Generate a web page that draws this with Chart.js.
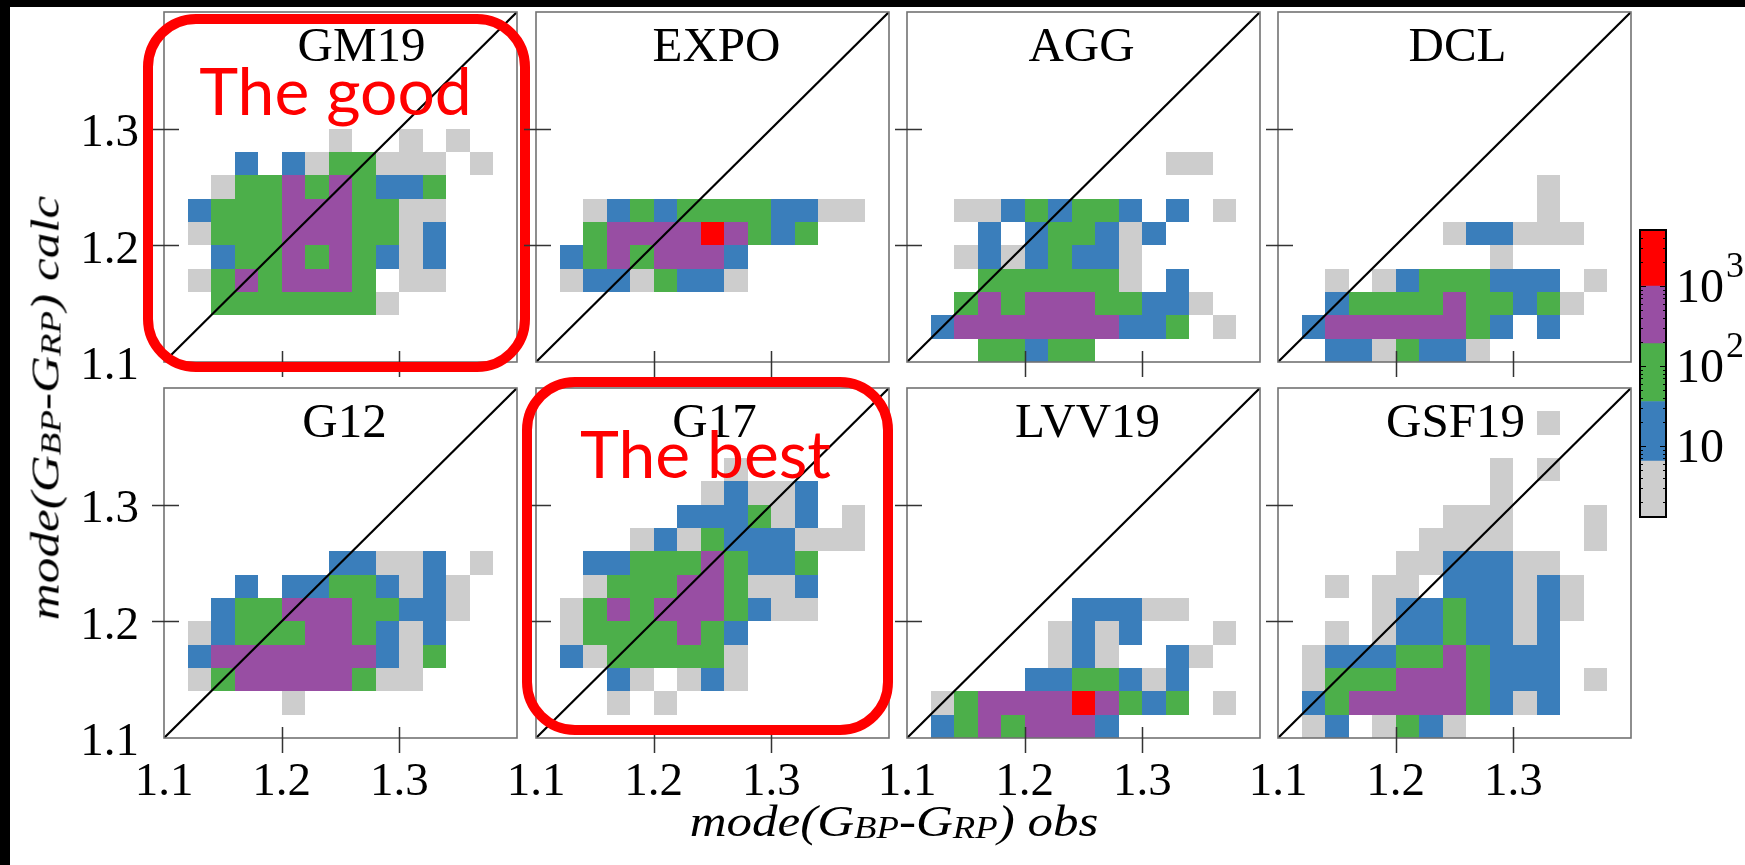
<!DOCTYPE html>
<html>
<head>
<meta charset="utf-8">
<title>mode(GBP-GRP) calc vs obs</title>
<script src="https://cdn.jsdelivr.net/npm/chart.js@4.4.1/dist/chart.umd.min.js"></script>
<style>
    html, body { margin: 0; padding: 0; background: #fff; }
    body { position: relative; width: 1745px; height: 865px; overflow: hidden; }
    .edge-top { position: absolute; left: 0; top: 0; width: 1745px; height: 7px; background: #000; }
    .edge-left { position: absolute; left: 0; top: 0; width: 10px; height: 865px; background: #000; }
    .box { position: absolute; }
    .box canvas { display: block; }
    .axis-title {
        position: absolute;
        font-family: 'Liberation Serif', 'Times New Roman', serif;
        font-style: italic;
        color: #000;
        white-space: nowrap;
        transform-origin: 50% 50%;
    }
    .axis-title .sc { font-size: 0.72em; position: relative; top: 0.06em; }
    #xTitle { left: 894px; top: 800px; font-size: 44px; line-height: 44px; transform: translateX(-50%) scaleX(1.16); }
    #yTitle { left: 47px; top: 408px; font-size: 41px; line-height: 41px; transform: translate(-50%, -50%) rotate(-90deg) scaleX(1.25); }
</style>
</head>
<body>
<div class="edge-top"></div>
<div class="edge-left"></div>
<div id="panels"></div>
<div class="axis-title" id="yTitle">mode(G<span class="sc">BP</span>-G<span class="sc">RP</span>) calc</div>
<div class="axis-title" id="xTitle">mode(G<span class="sc">BP</span>-G<span class="sc">RP</span>) obs</div>

<script>
// Bins run from 1.10 to 1.40 in steps of 0.02 on both axes.
var binStart = 1.1;
var binStep = 0.02;
var axisMin = 1.1;
var axisMax = 1.4;
var axisStep = 0.1;

var panelNames = ['GM19', 'EXPO', 'AGG', 'DCL', 'G12', 'G17', 'LVV19', 'GSF19'];

// Count class of every bin, one string per row, top row = calc 1.38-1.40.
// '.' empty, 1 grey, 2 blue, 3 green, 4 purple, 5 red (see levelEdges).
var gm19Bins = [
    '...............',
    '...............',
    '...............',
    '...............',
    '...............',
    '.......1..1.1..',
    '...2.2133111.1.',
    '..1334343223...',
    '.23334443311...',
    '.13334443312...',
    '..2334343212...',
    '.13434443.11...',
    '..33333331.....',
    '...............',
    '...............'
];
var expoBins = [
    '...............',
    '...............',
    '...............',
    '...............',
    '...............',
    '...............',
    '...............',
    '...............',
    '..123233332211.',
    '..3444454323...',
    '.23434442......',
    '.12213221......',
    '...............',
    '...............',
    '...............'
];
var aggBins = [
    '...............',
    '...............',
    '...............',
    '...............',
    '...............',
    '...............',
    '...........11..',
    '...............',
    '..11232332.2.1.',
    '...2.233212....',
    '..12123221.....',
    '...3333331.2...',
    '..34344433221..',
    '.24444444223.1.',
    '...33233.......'
];
var dclBins = [
    '...............',
    '...............',
    '...............',
    '...............',
    '...............',
    '...............',
    '...............',
    '...........1...',
    '...........1...',
    '.......122111..',
    '.........1.....',
    '..1.12333222.1.',
    '..23333433231..',
    '.244444432.2...',
    '..2213221......'
];
var g12Bins = [
    '...............',
    '...............',
    '...............',
    '...............',
    '...............',
    '...............',
    '...............',
    '.......22112.1.',
    '...2.22332121..',
    '..23344433221..',
    '.12333443212...',
    '.24444444213...',
    '.1344444311....',
    '.....1.........',
    '...............'
];
var g17Bins = [
    '...............',
    '...............',
    '...............',
    '........1......',
    '.......12112...',
    '......222312.1.',
    '....1213222111.',
    '..2233343223...',
    '..1333443112...',
    '.13434443211...',
    '.13333432......',
    '.21333331......',
    '...21.121......',
    '...1.1.........',
    '...............'
];
var lvv19Bins = [
    '...............',
    '...............',
    '...............',
    '...............',
    '...............',
    '...............',
    '...............',
    '...............',
    '...............',
    '.......22211...',
    '......1212...1.',
    '......121..21..',
    '.....2233212...',
    '.13444454323.1.',
    '.23434442......'
];
var gsf19Bins = [
    '...............',
    '...........1...',
    '...............',
    '.........1.1...',
    '.........1.....',
    '.......111...1.',
    '......1111...1.',
    '.....1122211...',
    '..1.11.222121..',
    '....122322121..',
    '..1.12232212...',
    '.12223343222...',
    '.13334443222.1.',
    '.23444443212...',
    '.12.1321.......'
];
var panelBins = [gm19Bins, expoBins, aggBins, dclBins, g12Bins, g17Bins, lvv19Bins, gsf19Bins];

// Colour classes and their count limits (log colour bar).
var levelColors = ['#cdcdcd', '#3a7ebb', '#4caf4a', '#984ea3', '#ff0000'];
var levelEdges = [1.3, 6.5, 36, 190, 1000, 5000];
var colorbarTicks = [10, 100, 1000];
var colorbarExponents = ['', '2', '3'];

var calloutTexts = ['The good', 'The best'];

// Page layout (pixels).
var PANEL_LEFT = [164, 536, 907, 1278];
var PANEL_TOP = [12, 388];
var PANEL_W = 353;
var PANEL_H = 350;
var AXIS_W = 100;
var AXIS_H = 80;
var PAD_TOP = 12;
var PAD_RIGHT = 20;
var titleShift = [21, 4, -2, 3, 4, 2, 4, 1];
var callouts = {
    0: { text: calloutTexts[0], inset: [-16, 7, 8, 5], dx: -5, baseline: 103 },
    5: { text: calloutTexts[1], inset: [-9, -6, -1, -8], dx: -7, baseline: 90 }
};

var SERIF = "'Liberation Serif', 'Times New Roman', serif";

function buildCells(rows) {
    var cells = [];
    var n = rows.length;
    rows.forEach(function (row, r) {
        var j = n - 1 - r;
        for (var i = 0; i < row.length; i++) {
            var c = row.charAt(i);
            if (c === '.') {
                continue;
            }
            cells.push({
                x: binStart + (i + 0.5) * binStep,
                y: binStart + (j + 0.5) * binStep,
                level: parseInt(c, 10)
            });
        }
    });
    return cells;
}

function roundedRect(ctx, x0, y0, x1, y1, r) {
    ctx.beginPath();
    ctx.moveTo(x0 + r, y0);
    ctx.lineTo(x1 - r, y0);
    ctx.arcTo(x1, y0, x1, y0 + r, r);
    ctx.lineTo(x1, y1 - r);
    ctx.arcTo(x1, y1, x1 - r, y1, r);
    ctx.lineTo(x0 + r, y1);
    ctx.arcTo(x0, y1, x0, y1 - r, r);
    ctx.lineTo(x0, y0 + r);
    ctx.arcTo(x0, y0, x0 + r, y0, r);
    ctx.closePath();
}

// Keep the plot area fixed: no extra room for half-labels at the axis ends.
function fixAxis(size) {
    return function (scale) {
        if (scale.isHorizontal()) {
            scale.height = size;
        } else {
            scale.width = size;
        }
        scale.paddingLeft = 0;
        scale.paddingRight = 0;
        scale.paddingTop = 0;
        scale.paddingBottom = 0;
    };
}

// Filled bins go under the diagonal, frame/ticks/title on top.
function panelPlugin(index) {
    return {
        id: 'panelDecor' + index,
        beforeDatasetsDraw: function (chart) {
            var ctx = chart.ctx;
            var xs = chart.scales.x;
            var ys = chart.scales.y;
            ctx.save();
            chart.data.datasets[0].data.forEach(function (c) {
                var x0 = Math.round(xs.getPixelForValue(c.x - binStep / 2));
                var x1 = Math.round(xs.getPixelForValue(c.x + binStep / 2));
                var y0 = Math.round(ys.getPixelForValue(c.y + binStep / 2));
                var y1 = Math.round(ys.getPixelForValue(c.y - binStep / 2));
                ctx.fillStyle = levelColors[c.level - 1];
                ctx.fillRect(x0, y0, x1 - x0, y1 - y0);
            });
            ctx.restore();
        },
        afterDatasetsDraw: function (chart) {
            var ctx = chart.ctx;
            var area = chart.chartArea;
            var xs = chart.scales.x;
            var ys = chart.scales.y;
            ctx.save();

            ctx.strokeStyle = '#727272';
            ctx.lineWidth = 1.6;
            ctx.strokeRect(area.left, area.top, area.right - area.left, area.bottom - area.top);

            // tick marks cross the frame
            ctx.strokeStyle = '#333';
            ctx.lineWidth = 1.5;
            ctx.beginPath();
            xs.ticks.forEach(function (t) {
                if (t.value <= axisMin + 1e-6 || t.value >= axisMax - 1e-6) {
                    return;
                }
                var px = Math.round(xs.getPixelForValue(t.value)) + 0.5;
                ctx.moveTo(px, area.bottom - 11);
                ctx.lineTo(px, area.bottom + 15);
            });
            ys.ticks.forEach(function (t) {
                if (t.value <= axisMin + 1e-6 || t.value >= axisMax - 1e-6) {
                    return;
                }
                var py = Math.round(ys.getPixelForValue(t.value)) + 0.5;
                ctx.moveTo(area.left - 12, py);
                ctx.lineTo(area.left + 15, py);
            });
            ctx.stroke();

            ctx.fillStyle = '#000';
            ctx.font = '49px ' + SERIF;
            ctx.textAlign = 'center';
            ctx.textBaseline = 'alphabetic';
            ctx.fillText(panelNames[index], (area.left + area.right) / 2 + titleShift[index], area.top + 49);
            ctx.restore();
        },
        afterDraw: function (chart) {
            var note = callouts[index];
            if (!note) {
                return;
            }
            var ctx = chart.ctx;
            var area = chart.chartArea;
            ctx.save();
            ctx.strokeStyle = '#ff0000';
            ctx.lineWidth = 10;
            roundedRect(ctx, area.left + note.inset[0], area.top + note.inset[1],
                area.right + note.inset[2], area.bottom + note.inset[3], 48);
            ctx.stroke();
            ctx.fillStyle = '#ff0000';
            ctx.font = '66px Lato, "Open Sans", sans-serif';
            ctx.textAlign = 'center';
            ctx.textBaseline = 'alphabetic';
            ctx.fillText(note.text, (area.left + area.right) / 2 + note.dx, area.top + note.baseline);
            ctx.restore();
        }
    };
}

function tickLabel(value) {
    var v = Number(value);
    if (v > axisMax - 0.05) {
        return '';
    }
    return v.toFixed(1);
}

function createPanel(index) {
    var col = index % 4;
    var row = Math.floor(index / 4);
    var holder = document.createElement('div');
    holder.className = 'box';
    var w = AXIS_W + PANEL_W + PAD_RIGHT;
    var h = PAD_TOP + PANEL_H + AXIS_H;
    holder.style.left = (PANEL_LEFT[col] - AXIS_W) + 'px';
    holder.style.top = (PANEL_TOP[row] - PAD_TOP) + 'px';
    holder.style.width = w + 'px';
    holder.style.height = h + 'px';
    var canvas = document.createElement('canvas');
    canvas.width = w;
    canvas.height = h;
    holder.appendChild(canvas);
    document.getElementById('panels').appendChild(holder);

    new Chart(canvas.getContext('2d'), {
        type: 'scatter',
        data: {
            datasets: [
                {
                    label: panelNames[index],
                    data: buildCells(panelBins[index]),
                    pointRadius: 0,
                    pointHoverRadius: 0
                },
                {
                    label: 'one-to-one',
                    data: [{ x: axisMin, y: axisMin }, { x: axisMax, y: axisMax }],
                    showLine: true,
                    borderColor: '#000',
                    borderWidth: 2.2,
                    pointRadius: 0,
                    fill: false
                }
            ]
        },
        options: {
            responsive: false,
            maintainAspectRatio: false,
            animation: false,
            events: [],
            layout: { padding: { left: 0, top: PAD_TOP, right: PAD_RIGHT, bottom: 0 } },
            plugins: {
                legend: { display: false },
                tooltip: { enabled: false }
            },
            scales: {
                x: {
                    type: 'linear',
                    position: 'bottom',
                    min: axisMin,
                    max: axisMax,
                    grid: { display: false, drawTicks: false },
                    border: { display: false },
                    afterFit: fixAxis(AXIS_H),
                    ticks: {
                        display: row === 1,
                        stepSize: axisStep,
                        autoSkip: false,
                        maxRotation: 0,
                        padding: 16,
                        color: '#000',
                        font: { family: SERIF, size: 47 },
                        callback: tickLabel
                    }
                },
                y: {
                    type: 'linear',
                    position: 'left',
                    min: axisMin,
                    max: axisMax,
                    grid: { display: false, drawTicks: false },
                    border: { display: false },
                    afterFit: fixAxis(AXIS_W),
                    ticks: {
                        display: col === 0,
                        stepSize: axisStep,
                        autoSkip: false,
                        padding: 25,
                        labelOffset: 5,
                        color: '#000',
                        font: { family: SERIF, size: 47 },
                        callback: tickLabel
                    }
                }
            }
        },
        plugins: [panelPlugin(index)]
    });
}

// Colour bar: one floating bar per count class on a log axis.
function createColorbar() {
    var holder = document.createElement('div');
    holder.className = 'box';
    var w = 115;
    var h = 312;
    holder.style.left = '1630px';
    holder.style.top = '218px';
    holder.style.width = w + 'px';
    holder.style.height = h + 'px';
    var canvas = document.createElement('canvas');
    canvas.width = w;
    canvas.height = h;
    holder.appendChild(canvas);
    document.getElementById('panels').appendChild(holder);

    var frame = {
        id: 'colorbarFrame',
        afterDatasetsDraw: function (chart) {
            var ctx = chart.ctx;
            var area = chart.chartArea;
            var ys = chart.scales.y;
            ctx.save();
            ctx.strokeStyle = '#000';
            ctx.lineWidth = 1.2;
            ctx.beginPath();
            [1, 10, 100, 1000].forEach(function (decade) {
                for (var m = 1; m <= 9; m++) {
                    var v = m * decade;
                    if (v <= levelEdges[0] || v >= levelEdges[levelEdges.length - 1]) {
                        continue;
                    }
                    var len = m === 1 ? 6 : 3;
                    var py = Math.round(ys.getPixelForValue(v)) + 0.5;
                    ctx.moveTo(area.left, py);
                    ctx.lineTo(area.left + len, py);
                    ctx.moveTo(area.right, py);
                    ctx.lineTo(area.right - len, py);
                }
            });
            ctx.stroke();
            ctx.lineWidth = 2;
            ctx.strokeRect(area.left, area.top, area.right - area.left, area.bottom - area.top);

            // decade labels, exponent set as a raised smaller digit
            ctx.fillStyle = '#000';
            ctx.textAlign = 'left';
            ctx.textBaseline = 'alphabetic';
            colorbarTicks.forEach(function (v, k) {
                var py = ys.getPixelForValue(v);
                var x = area.right + 10;
                ctx.font = '48px ' + SERIF;
                ctx.fillText('10', x, py + 16);
                var wBase = ctx.measureText('10').width;
                if (colorbarExponents[k]) {
                    ctx.font = '36px ' + SERIF;
                    ctx.fillText(colorbarExponents[k], x + wBase + 2, py - 9);
                }
            });
            ctx.restore();
        }
    };

    new Chart(canvas.getContext('2d'), {
        type: 'bar',
        data: {
            labels: ['N'],
            datasets: levelColors.map(function (color, k) {
                return {
                    label: 'class ' + (k + 1),
                    data: [[levelEdges[k], levelEdges[k + 1]]],
                    backgroundColor: color,
                    borderWidth: 0,
                    grouped: false,
                    barPercentage: 1,
                    categoryPercentage: 1
                };
            })
        },
        options: {
            responsive: false,
            maintainAspectRatio: false,
            animation: false,
            events: [],
            layout: { padding: { left: 10, top: 12, right: 0, bottom: 13 } },
            plugins: {
                legend: { display: false },
                tooltip: { enabled: false }
            },
            scales: {
                x: { display: false },
                y: {
                    type: 'logarithmic',
                    position: 'right',
                    min: levelEdges[0],
                    max: levelEdges[levelEdges.length - 1],
                    grid: { display: false, drawTicks: false },
                    border: { display: false },
                    afterFit: fixAxis(79),
                    afterBuildTicks: function (scale) {
                        scale.ticks = colorbarTicks.map(function (v) { return { value: v }; });
                    },
                    ticks: { display: false }
                }
            }
        },
        plugins: [frame]
    });
}

for (var p = 0; p < panelNames.length; p++) {
    createPanel(p);
}
createColorbar();
</script>
</body>
</html>
